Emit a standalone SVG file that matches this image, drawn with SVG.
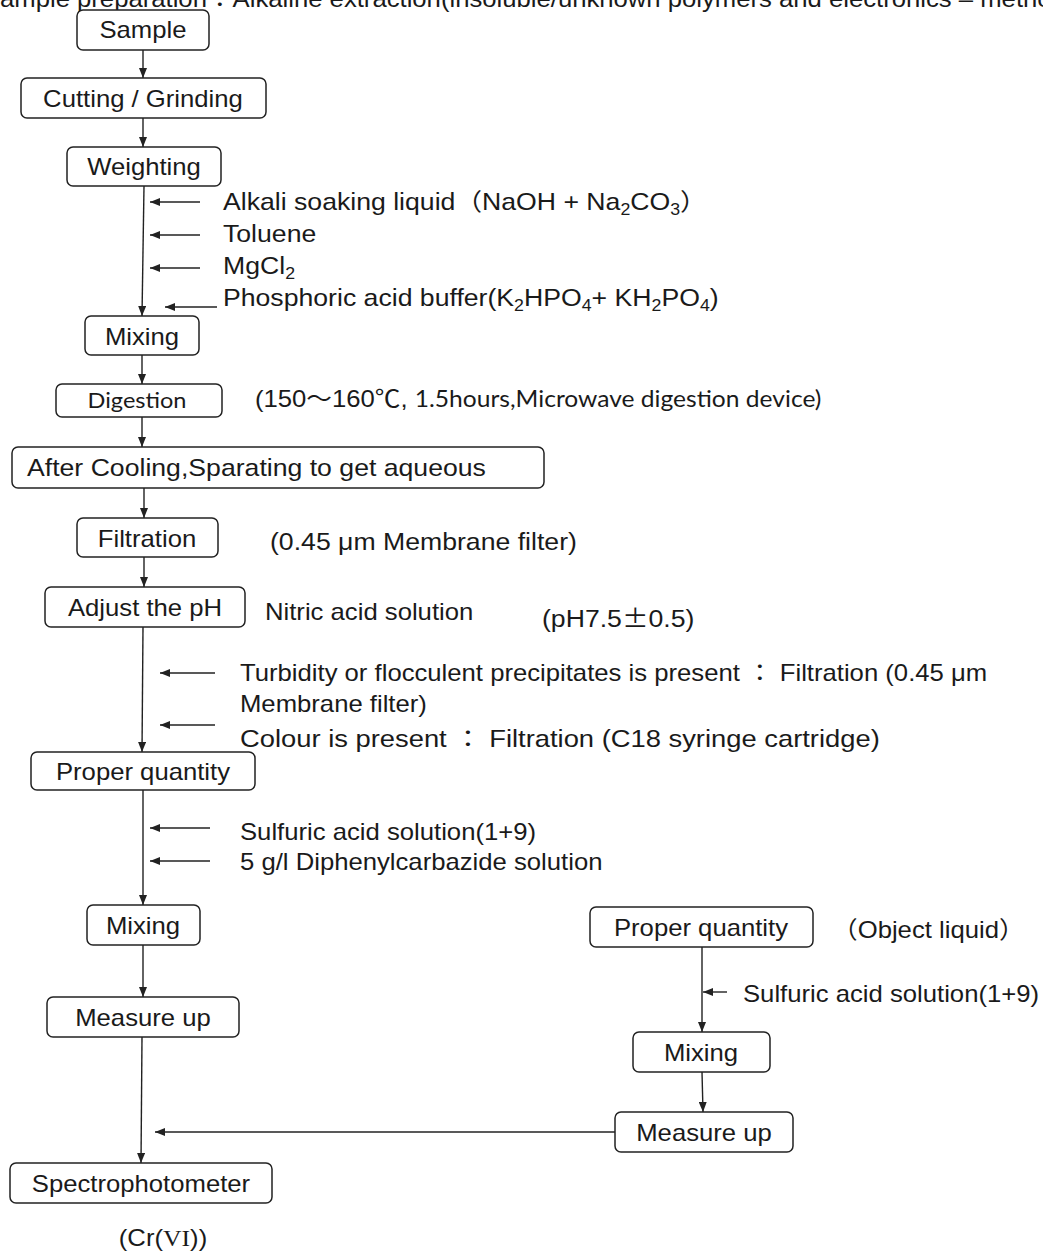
<svg xmlns="http://www.w3.org/2000/svg" width="1043" height="1253" viewBox="0 0 1043 1253">
  <defs>
    <marker id="ah" markerUnits="userSpaceOnUse" markerWidth="10" markerHeight="8" refX="10" refY="4" orient="auto">
      <path d="M0,0 L10,4 L0,8 z" fill="#222"/>
    </marker>
    <style>
      .box { fill:#fff; stroke:#222; stroke-width:1.5; }
      .lbl, .note { font-family:"Liberation Sans","Noto Sans CJK JP",sans-serif; font-size:24px; fill:#1a1a1a; transform-box:fill-box; }
      .lbl { text-anchor:middle; transform-origin:50% 50%; transform:scaleX(1.07); }
      .note { transform-origin:0% 50%; transform:scaleX(1.07); }
      .wide { transform:scaleX(1.11); }
      .wider { transform:scaleX(1.14); }
      .cal { font-family:Lato,"Noto Sans",sans-serif; }
      .cjk { font-family:"Noto Sans CJK JP",sans-serif; }
      .sub { font-size:16px; }
      .serif { font-family:"Liberation Serif",serif; }
      .conn line { stroke:#222; stroke-width:1.4; fill:none; }
      .conn .a { marker-end:url(#ah); }
    </style>
  </defs>
  <rect width="1043" height="1253" fill="#fff"/>

  <!-- heading, partly above the top edge -->
  <text class="note" x="0" y="7">ample preparation：Alkaline extraction(insoluble/unknown polymers and electronics – method</text>

  <!-- main column -->
  <g id="sample"><rect class="box" x="77" y="10" width="132" height="40" rx="6"/><text class="lbl" x="143" y="38">Sample</text></g>
  <g id="cutting"><rect class="box" x="21" y="78" width="245" height="40" rx="6"/><text class="lbl" x="143" y="107">Cutting / Grinding</text></g>
  <g id="weighting"><rect class="box" x="67" y="147" width="154" height="39" rx="6"/><text class="lbl" x="144" y="175">Weighting</text></g>

  <g id="reagents1">
    <text class="note wide" x="223" y="210">Alkali soaking liquid（NaOH + Na<tspan class="sub" dy="5">2</tspan><tspan dy="-5">CO</tspan><tspan class="sub" dy="5">3</tspan><tspan dy="-5">）</tspan></text>
    <text class="note wide" x="223" y="242">Toluene</text>
    <text class="note wide" x="223" y="274">MgCl<tspan class="sub" dy="5">2</tspan></text>
    <text class="note wide" x="223" y="306">Phosphoric acid buffer(K<tspan class="sub" dy="5">2</tspan><tspan dy="-5">HPO</tspan><tspan class="sub" dy="5">4</tspan><tspan dy="-5">+ KH</tspan><tspan class="sub" dy="5">2</tspan><tspan dy="-5">PO</tspan><tspan class="sub" dy="5">4</tspan><tspan dy="-5">)</tspan></text>
  </g>

  <g id="mixing1"><rect class="box" x="85" y="316" width="114" height="39" rx="6"/><text class="lbl" x="142" y="345">Mixing</text></g>
  <g id="digestion"><rect class="box" x="56" y="384" width="166" height="33" rx="6"/><text class="lbl cal" x="137" y="408" style="font-size:22px">Digestion</text></g>
  <text class="note" x="255" y="407">(150～160℃, <tspan class="cal" style="font-size:23px">1.5hours,Microwave digestion device)</tspan></text>

  <g id="cooling"><rect class="box" x="12" y="447" width="532" height="41" rx="6"/><text class="note wide" x="27" y="476">After Cooling,Sparating to get aqueous</text></g>

  <g id="filtration"><rect class="box" x="77" y="518" width="141" height="39" rx="6"/><text class="lbl" x="147" y="547">Filtration</text></g>
  <text class="note wide" x="270" y="550">(0.45 μm Membrane filter)</text>

  <g id="adjust"><rect class="box" x="45" y="587" width="200" height="40" rx="6"/><text class="lbl" x="145" y="616">Adjust the pH</text></g>
  <text class="note" x="265" y="620">Nitric acid solution</text>
  <text class="note wide" x="542" y="627">(pH7.5<tspan class="cjk">±</tspan>0.5)</text>

  <g id="reagents2">
    <text class="note" x="240" y="681">Turbidity or flocculent precipitates is present ： Filtration (0.45 μm</text>
    <text class="note" x="240" y="712">Membrane filter)</text>
    <text class="note wider" x="240" y="747">Colour is present ： Filtration (C18 syringe cartridge)</text>
  </g>

  <g id="proper1"><rect class="box" x="31" y="752" width="224" height="38" rx="6"/><text class="lbl" x="143" y="780">Proper quantity</text></g>

  <g id="reagents3">
    <text class="note" x="240" y="840">Sulfuric acid solution(1+9)</text>
    <text class="note" x="240" y="870">5 g/l Diphenylcarbazide solution</text>
  </g>

  <g id="mixing2"><rect class="box" x="87" y="905" width="113" height="40" rx="6"/><text class="lbl" x="143" y="934">Mixing</text></g>
  <g id="measure1"><rect class="box" x="47" y="997" width="192" height="40" rx="6"/><text class="lbl" x="143" y="1026">Measure up</text></g>
  <g id="spectro"><rect class="box" x="10" y="1163" width="262" height="40" rx="6"/><text class="lbl" x="141" y="1192">Spectrophotometer</text></g>
  <text class="lbl" x="163" y="1246">(Cr(<tspan class="serif">VI</tspan>))</text>

  <!-- side column -->
  <g id="proper2"><rect class="box" x="590" y="907" width="223" height="40" rx="6"/><text class="lbl" x="701" y="936">Proper quantity</text></g>
  <text class="note" x="832" y="938">（Object liquid）</text>
  <text class="note" x="743" y="1002">Sulfuric acid solution(1+9)</text>
  <g id="mixing3"><rect class="box" x="633" y="1032" width="137" height="40" rx="6"/><text class="lbl" x="701" y="1061">Mixing</text></g>
  <g id="measure2"><rect class="box" x="615" y="1112" width="178" height="40" rx="6"/><text class="lbl" x="704" y="1141">Measure up</text></g>

  <g class="conn" id="connectors">
    <line class="a" x1="143" y1="50" x2="143" y2="78"/>
    <line class="a" x1="143" y1="118" x2="143" y2="147"/>
    <line class="a" x1="144" y1="186" x2="142" y2="316"/>
    <line class="a" x1="200" y1="202" x2="150" y2="202"/>
    <line class="a" x1="200" y1="235" x2="150" y2="235"/>
    <line class="a" x1="200" y1="268" x2="150" y2="268"/>
    <line class="a" x1="217" y1="307" x2="165" y2="307"/>
    <line class="a" x1="142" y1="355" x2="142" y2="384"/>
    <line class="a" x1="142" y1="417" x2="142" y2="447"/>
    <line class="a" x1="144" y1="488" x2="144" y2="518"/>
    <line class="a" x1="144" y1="557" x2="144" y2="587"/>
    <line class="a" x1="143" y1="627" x2="142" y2="752"/>
    <line class="a" x1="215" y1="673" x2="160" y2="673"/>
    <line class="a" x1="215" y1="725" x2="160" y2="725"/>
    <line class="a" x1="143" y1="790" x2="143" y2="905"/>
    <line class="a" x1="210" y1="828" x2="150" y2="828"/>
    <line class="a" x1="210" y1="861" x2="150" y2="861"/>
    <line class="a" x1="143" y1="945" x2="143" y2="997"/>
    <line class="a" x1="142" y1="1037" x2="141" y2="1163"/>
    <line class="a" x1="702" y1="947" x2="702" y2="1032"/>
    <line class="a" x1="727" y1="992" x2="703" y2="992"/>
    <line class="a" x1="702" y1="1072" x2="703" y2="1112"/>
    <line class="a" x1="615" y1="1132" x2="155" y2="1132"/>
  </g>
</svg>
